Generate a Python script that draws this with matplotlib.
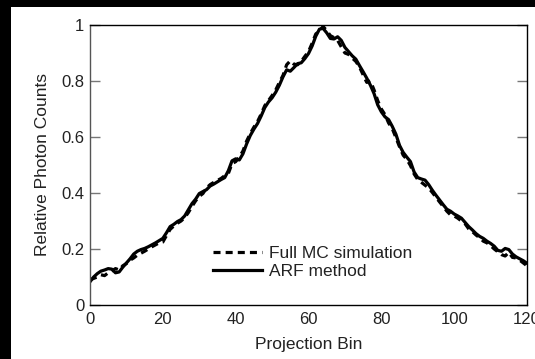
import matplotlib
matplotlib.use("Agg")
import matplotlib.pyplot as plt
from matplotlib.patches import Rectangle

plt.rcParams['font.family'] = ['Liberation Sans', 'DejaVu Sans']

bins = list(range(0, 121))

arf = [0.083, 0.100, 0.112, 0.121, 0.125, 0.130, 0.128, 0.115, 0.118, 0.135,
       0.150, 0.165, 0.182, 0.192, 0.198, 0.202, 0.208, 0.215, 0.222, 0.230,
       0.238, 0.258, 0.280, 0.288, 0.298, 0.305, 0.318, 0.340, 0.362, 0.378,
       0.398, 0.405, 0.412, 0.425, 0.432, 0.440, 0.448, 0.455, 0.480, 0.515,
       0.522, 0.518, 0.540, 0.575, 0.605, 0.628, 0.648, 0.675, 0.705, 0.725,
       0.740, 0.760, 0.785, 0.815, 0.840, 0.835, 0.848, 0.862, 0.865, 0.880,
       0.898, 0.925, 0.960, 0.985, 0.988, 0.972, 0.952, 0.950, 0.958, 0.945,
       0.920, 0.905, 0.890, 0.878, 0.855, 0.833, 0.810, 0.785, 0.755, 0.715,
       0.690, 0.672, 0.662, 0.638, 0.610, 0.570, 0.545, 0.528, 0.512, 0.475,
       0.455, 0.450, 0.446, 0.430, 0.410, 0.392, 0.375, 0.358, 0.342, 0.335,
       0.325, 0.318, 0.310, 0.295, 0.280, 0.268, 0.255, 0.245, 0.238, 0.228,
       0.220, 0.210, 0.195, 0.192, 0.202, 0.198, 0.182, 0.172, 0.165, 0.158,
       0.149]

mc = [0.090, 0.095, 0.100, 0.108, 0.105, 0.115, 0.122, 0.130, 0.125, 0.140,
      0.148, 0.160, 0.168, 0.178, 0.185, 0.192, 0.200, 0.208, 0.215, 0.222,
      0.225, 0.248, 0.270, 0.282, 0.292, 0.300, 0.312, 0.330, 0.352, 0.372,
      0.388, 0.398, 0.418, 0.430, 0.438, 0.445, 0.452, 0.462, 0.470, 0.505,
      0.512, 0.528, 0.550, 0.585, 0.612, 0.635, 0.655, 0.682, 0.712, 0.730,
      0.748, 0.768, 0.795, 0.820, 0.858, 0.872, 0.860, 0.858, 0.870, 0.888,
      0.905, 0.935, 0.968, 0.978, 0.995, 0.980, 0.962, 0.955, 0.945, 0.922,
      0.900, 0.895, 0.882, 0.870, 0.850, 0.822, 0.795, 0.800, 0.768, 0.730,
      0.700, 0.680, 0.650, 0.630, 0.598, 0.565, 0.535, 0.520, 0.498, 0.468,
      0.448, 0.438, 0.428, 0.418, 0.402, 0.385, 0.368, 0.352, 0.335, 0.322,
      0.318, 0.310, 0.300, 0.290, 0.272, 0.262, 0.250, 0.240, 0.228, 0.222,
      0.212, 0.200, 0.190, 0.180, 0.175, 0.188, 0.170, 0.168, 0.160, 0.150,
      0.140]

xticks = [0, 20, 40, 60, 80, 100, 120]
yticks = [0, 0.2, 0.4, 0.6, 0.8, 1]
ytick_labels = ["0", "0.2", "0.4", "0.6", "0.8", "1"]

W, H = 535, 359
fig = plt.figure(figsize=(W / 100, H / 100), dpi=100, facecolor='black')
fig.patches.append(Rectangle((11 / W, 0), 1 - 11 / W, 1 - 7 / H,
                             transform=fig.transFigure, facecolor='white',
                             edgecolor='none', zorder=-10))

ax = fig.add_axes([90 / W, (H - 305) / H, (527 - 90) / W, (305 - 25) / H])
ax.set_facecolor('white')

ax.plot(bins, mc, linestyle=(0, (2.2, 1.6)), color='black', linewidth=2.3,
        label='Full MC simulation')
ax.plot(bins, arf, linestyle='-', color='black', linewidth=2.3,
        label='ARF method')

ax.set_xlim(0, 120)
ax.set_ylim(0, 1)
ax.set_xticks(xticks)
ax.set_xticklabels([str(t) for t in xticks])
ax.set_yticks(yticks)
ax.set_yticklabels(ytick_labels)

ax.tick_params(axis='y', direction='in', length=7, width=1, color='#777777',
               left=True, right=True, labelsize=12, labelcolor='#222222', pad=4)
ax.tick_params(axis='x', direction='in', length=0, labelsize=12,
               labelcolor='#222222', pad=5)
for s in ax.spines.values():
    s.set_color('black')
    s.set_linewidth(1)
ax.spines['left'].set_color('#555555')

ax.set_xlabel('Projection Bin', fontsize=12.5, color='#222222', labelpad=7)
ax.set_ylabel('Relative Photon Counts', fontsize=12.5, color='#222222', labelpad=8)

leg = ax.legend(loc='upper left', bbox_to_anchor=((213 - 90) / 437, (305 - 246) / 280),
                frameon=False, fontsize=12.5, handlelength=2.8, handletextpad=0.45,
                labelspacing=0.15, borderpad=0, borderaxespad=0)
for t in leg.get_texts():
    t.set_color('#222222')

fig.savefig('out.png', dpi=100, facecolor=fig.get_facecolor())
